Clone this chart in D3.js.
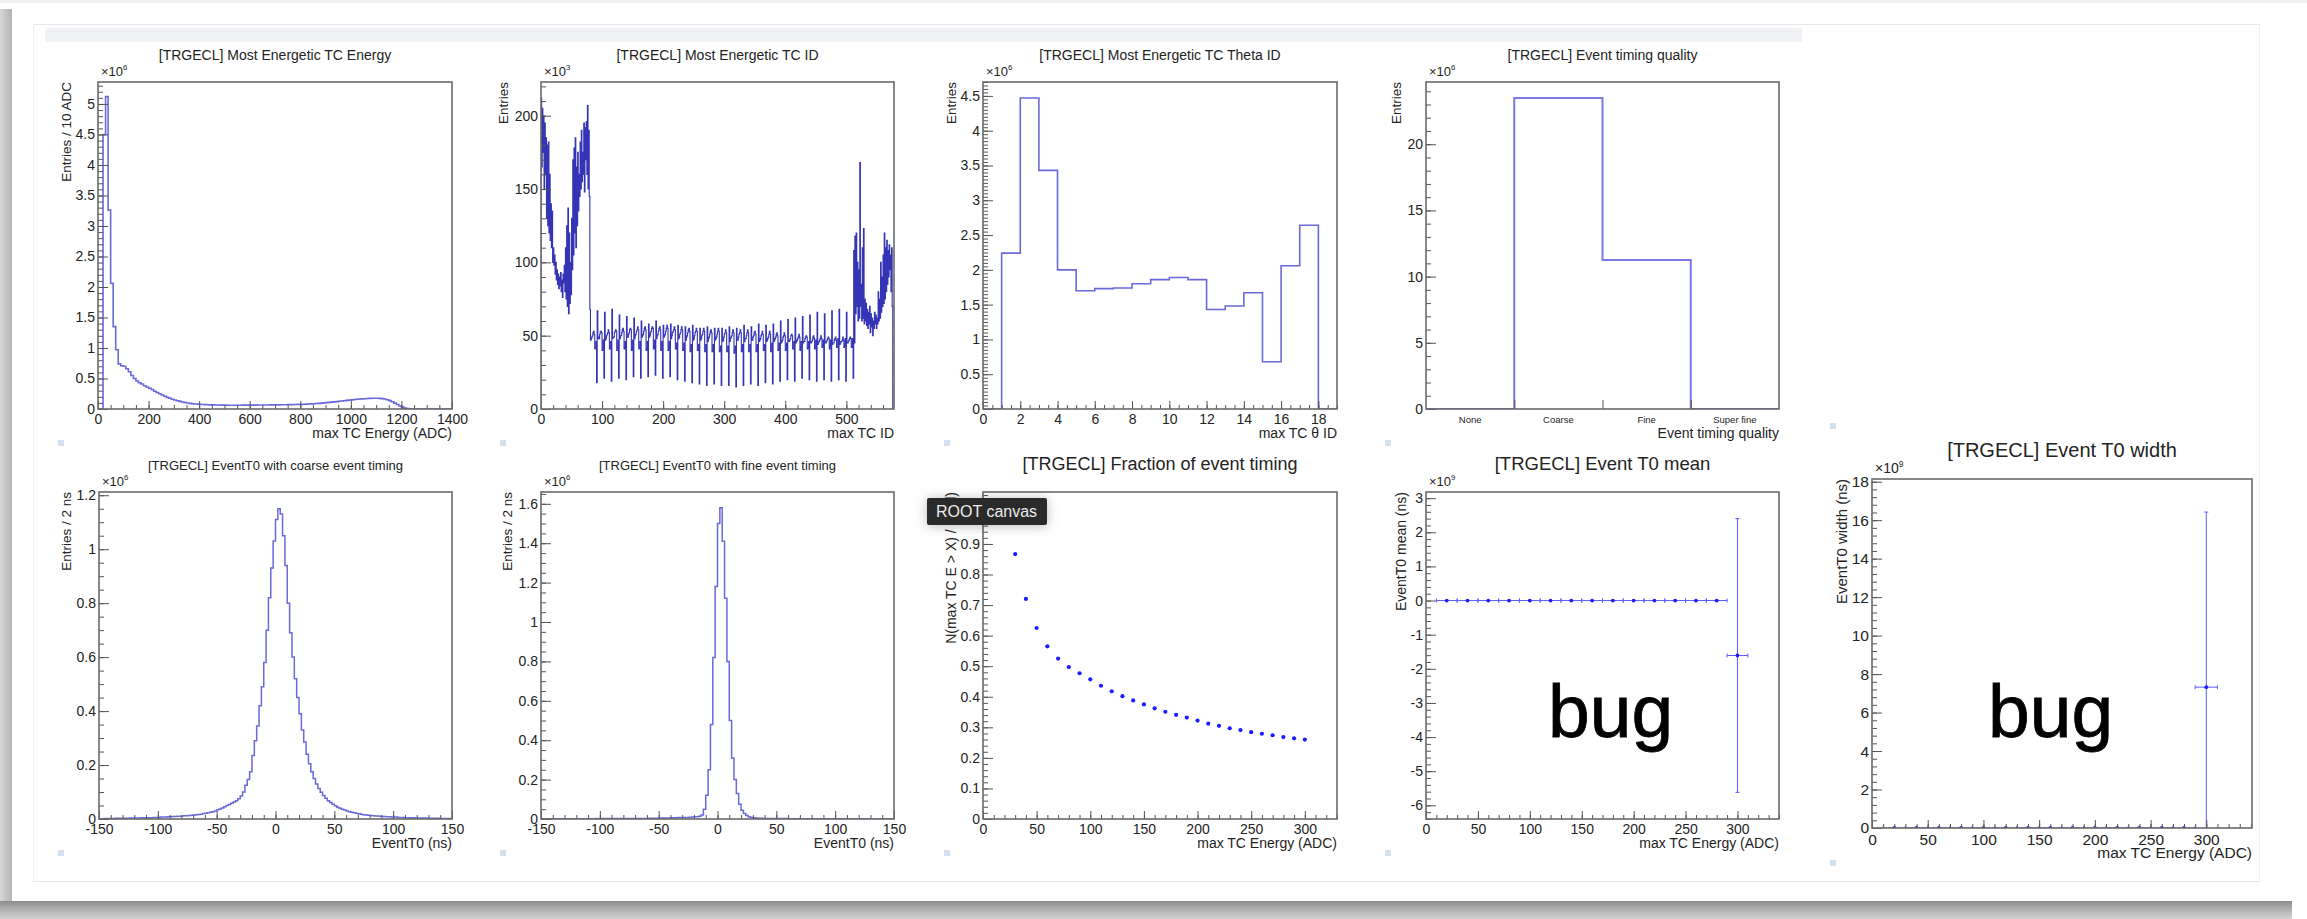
<!DOCTYPE html>
<html>
<head>
<meta charset="utf-8">
<title>TRGECL DQM</title>
<script src="https://cdn.jsdelivr.net/npm/d3@7"></script>
<style>
html,body{margin:0;padding:0;background:#fff;}
svg{display:block;}
</style>
</head>
<body>
<svg id="canvas" width="2307" height="919"></svg>
<script>
// ===================== data =====================
// Most energetic TC energy: entries (x10^6) per 10 ADC bin, starting at 0 ADC
const energyBinWidth = 10;
const energyCounts = [
  0, 0, 4.50, 5.12, 3.26, 2.06, 1.35, 0.97, 0.74, 0.71,
  0.70, 0.66, 0.61, 0.55, 0.50, 0.46, 0.43, 0.41, 0.38, 0.36,
  0.34, 0.32, 0.29, 0.27, 0.25, 0.23, 0.21, 0.19, 0.175, 0.16,
  0.148, 0.136, 0.125, 0.115, 0.106, 0.098, 0.092, 0.087, 0.083, 0.080,
  0.077, 0.074, 0.072, 0.070, 0.068, 0.067, 0.066, 0.065, 0.064, 0.063,
  0.063, 0.062, 0.062, 0.062, 0.062, 0.062, 0.062, 0.063, 0.063, 0.063,
  0.064, 0.064, 0.064, 0.065, 0.065, 0.065, 0.066, 0.066, 0.067, 0.067,
  0.068, 0.068, 0.069, 0.070, 0.070, 0.071, 0.072, 0.073, 0.074, 0.075,
  0.076, 0.078, 0.080, 0.082, 0.084, 0.087, 0.090, 0.093, 0.097, 0.100,
  0.104, 0.108, 0.112, 0.116, 0.121, 0.126, 0.131, 0.136, 0.141, 0.146,
  0.150, 0.155, 0.159, 0.163, 0.166, 0.169, 0.172, 0.174, 0.176, 0.177,
  0.176, 0.174, 0.170, 0.163, 0.152, 0.137, 0.118, 0.096, 0.073, 0.050,
  0.030, 0.015, 0.006, 0.002, 0.001, 0, 0, 0, 0, 0,
  0, 0, 0, 0, 0, 0, 0, 0, 0, 0
];

// Most energetic TC ID: entries (x10^3) per TC, forward endcap (TC 1-80)
const tcForward = [
  212, 165, 205, 175, 200, 150, 195, 160, 185, 130,
  180, 125, 182, 120, 160, 115, 140, 110, 135, 100,
  110, 98, 105, 92, 100, 88, 95, 85, 92, 82,
  90, 84, 93, 80, 88, 76, 92, 86, 98, 80,
  110, 75, 125, 70, 137, 65, 120, 72, 100, 78,
  130, 95, 170, 105, 178, 120, 185, 110, 165, 125,
  175, 135, 160, 145, 182, 150, 190, 155, 175, 160,
  195, 148, 192, 170, 196, 160, 207, 150, 190, 145
];
// barrel (TC 81-512): one row of 12 theta TCs per phi sector
const tcBarrel = [
  [68, 47, 48, 49, 50, 52, 53, 51, 41, 42, 46, 18],
  [67, 48, 49, 48, 51, 53, 53, 52, 40, 42, 47, 21],
  [66, 47, 48, 50, 51, 52, 54, 52, 41, 41, 46, 19],
  [68, 48, 49, 49, 52, 53, 54, 53, 40, 42, 47, 21],
  [64, 48, 50, 50, 52, 54, 55, 53, 41, 42, 46, 20],
  [63, 49, 49, 51, 52, 54, 55, 54, 40, 41, 47, 22],
  [62, 48, 50, 51, 53, 54, 56, 54, 41, 42, 46, 21],
  [60, 49, 50, 51, 53, 55, 56, 54, 40, 41, 46, 22],
  [58, 49, 50, 52, 53, 55, 56, 55, 41, 42, 47, 23],
  [60, 48, 50, 51, 53, 55, 56, 54, 40, 41, 46, 21],
  [57, 49, 50, 51, 53, 55, 57, 55, 40, 42, 46, 22],
  [58, 48, 50, 52, 53, 54, 56, 54, 41, 41, 45, 20],
  [57, 48, 49, 51, 52, 54, 56, 54, 40, 41, 45, 19],
  [56, 47, 49, 50, 52, 54, 55, 53, 39, 40, 44, 18],
  [57, 47, 48, 50, 52, 53, 55, 53, 40, 40, 44, 17],
  [55, 47, 48, 50, 51, 53, 55, 53, 39, 40, 44, 16],
  [56, 46, 48, 49, 51, 53, 54, 52, 39, 40, 44, 17],
  [55, 47, 48, 49, 51, 53, 55, 53, 39, 40, 43, 16],
  [55, 46, 47, 49, 51, 52, 54, 52, 39, 39, 43, 16],
  [56, 46, 48, 49, 50, 52, 54, 52, 38, 40, 43, 15],
  [55, 47, 47, 49, 51, 52, 54, 52, 39, 40, 44, 16],
  [57, 46, 48, 48, 50, 52, 54, 52, 39, 40, 44, 17],
  [56, 47, 47, 49, 50, 52, 53, 51, 39, 40, 44, 16],
  [58, 46, 47, 48, 50, 51, 53, 51, 40, 41, 44, 18],
  [57, 46, 47, 48, 49, 51, 53, 51, 39, 40, 45, 17],
  [58, 46, 47, 48, 49, 51, 52, 50, 40, 41, 45, 19],
  [60, 45, 46, 47, 49, 50, 52, 50, 40, 41, 45, 20],
  [61, 46, 46, 47, 48, 50, 51, 50, 41, 41, 46, 19],
  [62, 45, 46, 47, 48, 49, 51, 49, 40, 42, 46, 21],
  [63, 45, 46, 46, 48, 49, 50, 49, 41, 42, 46, 20],
  [64, 45, 45, 46, 47, 49, 50, 48, 41, 42, 47, 19],
  [66, 44, 45, 46, 47, 48, 50, 48, 42, 43, 47, 20],
  [65, 45, 45, 46, 47, 48, 49, 48, 41, 43, 47, 19],
  [67, 44, 45, 45, 47, 48, 49, 47, 42, 43, 48, 20],
  [68, 44, 45, 46, 46, 47, 49, 47, 42, 43, 48, 19],
  [66, 45, 45, 46, 47, 48, 49, 48, 42, 43, 48, 21]
];
// backward endcap (TC 513-576)
const tcBackward = [
  108, 45, 118, 65, 120, 70, 100, 60, 95, 62,
  168, 70, 85, 60, 110, 62, 123, 58, 75, 60,
  72, 57, 68, 55, 66, 58, 70, 52, 65, 56,
  62, 50, 60, 55, 66, 58, 64, 55, 62, 58,
  80, 60, 75, 62, 100, 66, 90, 70, 105, 72,
  120, 75, 110, 80, 115, 85, 108, 90, 112, 95,
  105, 80, 110, 70
];

// Most energetic TC theta ID: entries (x10^6) for bins 0..18
const thetaCounts = [0, 2.24, 4.47, 3.43, 2.00, 1.70, 1.73, 1.74, 1.80, 1.86, 1.89, 1.86, 1.43, 1.48, 1.67, 0.68, 2.06, 2.64, 0];

// Event timing quality (x10^6)
const qualityLabels = ["None", "Coarse", "Fine", "Super fine"];
const qualityCounts = [0, 23.5, 11.25, 0];

// EventT0 distributions: entries (x10^6) per 2 ns, from -150 ns
const t0BinWidth = 2;
const t0Coarse = [
  0.001, 0.001, 0.002, 0.002, 0.002, 0.002, 0.002, 0.003, 0.003, 0.003,
  0.003, 0.003, 0.003, 0.004, 0.004, 0.004, 0.004, 0.004, 0.005, 0.005,
  0.005, 0.005, 0.005, 0.006, 0.006, 0.006, 0.007, 0.007, 0.007, 0.008,
  0.008, 0.009, 0.009, 0.010, 0.010, 0.011, 0.012, 0.012, 0.013, 0.014,
  0.015, 0.016, 0.017, 0.018, 0.020, 0.021, 0.023, 0.025, 0.027, 0.030,
  0.034, 0.037, 0.041, 0.045, 0.050, 0.054, 0.058, 0.063, 0.068, 0.075,
  0.085, 0.100, 0.125, 0.146, 0.175, 0.235, 0.29, 0.345, 0.42, 0.49,
  0.58, 0.70, 0.82, 0.93, 1.03, 1.11, 1.15, 1.13, 1.05, 0.94,
  0.80, 0.69, 0.60, 0.52, 0.45, 0.39, 0.33, 0.285, 0.24, 0.205,
  0.175, 0.15, 0.13, 0.113, 0.099, 0.087, 0.077, 0.068, 0.061, 0.055,
  0.049, 0.044, 0.040, 0.036, 0.033, 0.030, 0.027, 0.025, 0.023, 0.021,
  0.019, 0.018, 0.016, 0.015, 0.014, 0.013, 0.012, 0.011, 0.011, 0.010,
  0.009, 0.009, 0.008, 0.008, 0.007, 0.007, 0.007, 0.006, 0.006, 0.006,
  0.005, 0.005, 0.005, 0.005, 0.004, 0.004, 0.004, 0.004, 0.004, 0.003,
  0.003, 0.003, 0.003, 0.003, 0.003, 0.002, 0.002, 0.002, 0.002, 0.002
];
const t0Fine = [
  0.000, 0.000, 0.000, 0.001, 0.000, 0.001, 0.001, 0.000, 0.001, 0.001,
  0.001, 0.001, 0.001, 0.001, 0.001, 0.001, 0.001, 0.001, 0.001, 0.001,
  0.001, 0.001, 0.001, 0.002, 0.001, 0.002, 0.002, 0.002, 0.002, 0.002,
  0.002, 0.002, 0.002, 0.002, 0.002, 0.002, 0.003, 0.002, 0.003, 0.003,
  0.003, 0.003, 0.003, 0.003, 0.003, 0.003, 0.004, 0.004, 0.004, 0.004,
  0.004, 0.005, 0.005, 0.005, 0.005, 0.006, 0.006, 0.006, 0.007, 0.007,
  0.007, 0.008, 0.008, 0.009, 0.010, 0.011, 0.012, 0.014, 0.020, 0.050,
  0.12, 0.25, 0.48, 0.82, 1.18, 1.50, 1.58, 1.41, 1.12, 0.80,
  0.50, 0.31, 0.20, 0.13, 0.075, 0.045, 0.028, 0.018, 0.012, 0.008,
  0.006, 0.005, 0.004, 0.004, 0.003, 0.003, 0.003, 0.002, 0.002, 0.002,
  0.002, 0.002, 0.002, 0.002, 0.002, 0.001, 0.001, 0.001, 0.001, 0.001,
  0.001, 0.001, 0.001, 0.001, 0.001, 0.001, 0.001, 0.001, 0.001, 0.001,
  0.001, 0.001, 0.001, 0.001, 0.001, 0.001, 0.000, 0.001, 0.000, 0.001,
  0.000, 0.000, 0.001, 0.000, 0.000, 0.000, 0.000, 0.000, 0.000, 0.000,
  0.000, 0.000, 0.000, 0.000, 0.000, 0.000, 0.000, 0.000, 0.000, 0.000
];

// Fraction of events with timing, vs max TC energy threshold
const fractionEnergy = [30, 40, 50, 60, 70, 80, 90, 100, 110, 120, 130, 140, 150, 160, 170, 180, 190, 200, 210, 220, 230, 240, 250, 260, 270, 280, 290, 300];
const fractionValues = [0.867, 0.720, 0.625, 0.565, 0.525, 0.497, 0.477, 0.457, 0.436, 0.418, 0.402, 0.388, 0.375, 0.362, 0.351, 0.341, 0.332, 0.322, 0.312, 0.305, 0.297, 0.291, 0.284, 0.279, 0.274, 0.268, 0.264, 0.260];

// EventT0 mean / width vs max TC energy (x10^9 ns)
const profileEnergy = [20, 40, 60, 80, 100, 120, 140, 160, 180, 200, 220, 240, 260, 280, 300];
const profileHalfWidth = 10;
const t0MeanValues  = [0, 0, 0, 0, 0, 0, 0, 0, 0, 0, 0, 0, 0, 0, -1.61];
const t0MeanErrors  = [0, 0, 0, 0, 0, 0, 0, 0, 0, 0, 0, 0, 0, 0, 4.01];
const t0WidthValues = [0, 0, 0, 0, 0, 0, 0, 0, 0, 0, 0, 0, 0, 0, 7.32];
const t0WidthErrors = [0, 0, 0, 0, 0, 0, 0, 0, 0, 0, 0, 0, 0, 0, 9.10];

// ===================== drawing =====================
const W = 2307, H = 919;
const FONT = "'Liberation Sans', Arial, Helvetica, sans-serif";
const TEXT = "#232323";
const HIST = "#6a6ad9";
const svg = d3.select("#canvas");
const defs = svg.append("defs");

// window chrome: drop shadow, borders, header band
const gl = defs.append("linearGradient").attr("id", "shadowLeft").attr("x1", 0).attr("x2", 1).attr("y1", 0).attr("y2", 0);
gl.append("stop").attr("offset", 0).attr("stop-color", "#d6d6d6");
gl.append("stop").attr("offset", 1).attr("stop-color", "#b4b4b4");
const gb = defs.append("linearGradient").attr("id", "shadowBottom").attr("x1", 0).attr("x2", 0).attr("y1", 0).attr("y2", 1);
gb.append("stop").attr("offset", 0).attr("stop-color", "#8a8a8a");
gb.append("stop").attr("offset", 0.35).attr("stop-color", "#a9a9a9");
gb.append("stop").attr("offset", 1).attr("stop-color", "#d2d2d2");
const ts = defs.append("filter").attr("id", "tipShadow").attr("x", "-30%").attr("y", "-80%").attr("width", "160%").attr("height", "260%");
ts.append("feDropShadow").attr("dx", 0).attr("dy", 1).attr("stdDeviation", 6).attr("flood-color", "#000").attr("flood-opacity", 0.28);

svg.append("rect").attr("width", W).attr("height", H).attr("fill", "#fff");
svg.append("rect").attr("x", 0).attr("y", 0).attr("width", W).attr("height", 3).attr("fill", "#f0f0f0");
svg.append("rect").attr("x", 0).attr("y", 9).attr("width", 12).attr("height", 893).attr("fill", "url(#shadowLeft)");
svg.append("rect").attr("x", 0).attr("y", 901).attr("width", 2292).attr("height", 18).attr("fill", "url(#shadowBottom)");
const chrome = svg.append("g").attr("fill", "none").attr("stroke-width", 1);
chrome.append("line").attr("x1", 33).attr("x2", 2259).attr("y1", 24.5).attr("y2", 24.5).attr("stroke", "#e8e8e8");
chrome.append("line").attr("x1", 33).attr("x2", 2259).attr("y1", 881.5).attr("y2", 881.5).attr("stroke", "#e6e6e6");
chrome.append("line").attr("x1", 33.5).attr("x2", 33.5).attr("y1", 24).attr("y2", 882).attr("stroke", "#f0f0f0");
chrome.append("line").attr("x1", 2259.5).attr("x2", 2259.5).attr("y1", 24).attr("y2", 882).attr("stroke", "#f0f0f0");
svg.append("rect").attr("x", 45).attr("y", 28).attr("width", 1757).attr("height", 14).attr("fill", "#f1f2f6");

// small pad markers
const padMarks = [[58, 440], [500, 440], [944, 440], [1385, 440], [1830, 423], [58, 850], [500, 850], [944, 850], [1385, 850], [1830, 860]];
svg.append("g").selectAll("rect").data(padMarks).join("rect")
  .attr("x", d => d[0]).attr("y", d => d[1]).attr("width", 6).attr("height", 6).attr("fill", "#d3e0ee");

function tickRange(dom, step) {
  const lo = Math.min(dom[0], dom[1]), hi = Math.max(dom[0], dom[1]);
  const out = [];
  for (let k = Math.ceil(lo / step - 1e-9); k * step <= hi + 1e-9; k++) out.push(+(k * step).toFixed(6));
  return out;
}
const fmt = v => String(+v.toFixed(3));

function styleAxis(sel, fs) {
  sel.select(".domain").remove();
  sel.attr("font-family", FONT).attr("font-size", fs);
  sel.selectAll(".tick line").attr("stroke", "#555").attr("stroke-width", 1);
  sel.selectAll(".tick text").attr("fill", TEXT);
}

function panel(o) {
  const x = d3.scaleLinear().domain(o.xDomain).range([o.L, o.R]);
  const y = d3.scaleLinear().domain(o.yDomain).range([o.B, o.T]);
  const g = svg.append("g");
  const cid = "clip-" + o.key;
  defs.append("clipPath").attr("id", cid).append("rect")
    .attr("x", o.L).attr("y", o.T).attr("width", o.R - o.L).attr("height", o.B - o.T);
  const plot = g.append("g").attr("clip-path", `url(#${cid})`);
  const axes = g.append("g");
  const fs = o.tickFont || 14;

  // y axis (ticks point into the frame)
  axes.append("g").attr("transform", `translate(${o.L},0)`)
    .call(d3.axisLeft(y).tickValues(tickRange(o.yDomain, o.yMinor)).tickSize(-5).tickFormat(""))
    .call(s => styleAxis(s, fs));
  axes.append("g").attr("transform", `translate(${o.L},0)`)
    .call(d3.axisLeft(y).tickValues(tickRange(o.yDomain, o.yMajor)).tickSize(-10).tickPadding(3).tickFormat(fmt))
    .call(s => styleAxis(s, fs));

  // x axis
  if (!o.categories) {
    axes.append("g").attr("transform", `translate(0,${o.B})`)
      .call(d3.axisBottom(x).tickValues(tickRange(o.xDomain, o.xMinor)).tickSize(-4).tickFormat(""))
      .call(s => styleAxis(s, fs));
    axes.append("g").attr("transform", `translate(0,${o.B})`)
      .call(d3.axisBottom(x).tickValues(tickRange(o.xDomain, o.xMajor)).tickSize(-8).tickPadding(o.xPad || 5).tickFormat(fmt))
      .call(s => styleAxis(s, fs));
  } else {
    const band = d3.scaleBand().domain(o.categories).range([o.L, o.R]);
    axes.append("g").attr("transform", `translate(0,${o.B})`)
      .call(d3.axisBottom(band).tickSize(0).tickPadding(7))
      .call(s => styleAxis(s, 9.5));
    axes.append("g").attr("transform", `translate(0,${o.B})`)
      .call(d3.axisBottom(x).tickValues(d3.range(1, o.categories.length)).tickSize(-9).tickFormat(""))
      .call(s => styleAxis(s, fs));
  }

  // frame
  g.append("rect").attr("x", o.L).attr("y", o.T).attr("width", o.R - o.L).attr("height", o.B - o.T)
    .attr("fill", "none").attr("stroke", "#6a6a6a").attr("stroke-width", 1.6);

  // titles
  g.append("text").attr("x", (o.L + o.R) / 2).attr("y", o.T - 22).attr("text-anchor", "middle")
    .attr("font-family", FONT).attr("font-size", o.titleFont || 14).attr("fill", TEXT).text(o.title);
  g.append("text").attr("x", o.R).attr("y", o.B + (o.xTitleGap || 29)).attr("text-anchor", "end")
    .attr("font-family", FONT).attr("font-size", o.xTitleFont || 14).attr("fill", TEXT).text(o.xTitle);
  g.append("text").attr("transform", `translate(${o.yTitleX},${o.T}) rotate(-90)`).attr("text-anchor", "end")
    .attr("font-family", FONT).attr("font-size", o.yTitleFont || 13.5).attr("fill", TEXT).text(o.yTitle);
  if (o.expo) {
    const t = g.append("text").attr("x", o.L + 3).attr("y", o.T - 6)
      .attr("font-family", FONT).attr("font-size", o.expoFont || 13).attr("fill", TEXT);
    t.append("tspan").text("\u00d710");
    t.append("tspan").attr("dy", -6).attr("font-size", (o.expoFont || 13) * 0.6).text(o.expo);
  }
  return { x, y, plot, g };
}

// step outline of a fixed-width histogram
function stepOutline(start, width, counts) {
  const pts = [[start, 0]];
  counts.forEach((c, i) => { pts.push([start + i * width, c], [start + (i + 1) * width, c]); });
  pts.push([start + counts.length * width, 0]);
  return pts;
}
function drawHist(p, pts, color, w) {
  const line = d3.line().x(d => p.x(d[0])).y(d => p.y(d[1]));
  p.plot.append("path").attr("d", line(pts)).attr("fill", "none")
    .attr("stroke", color).attr("stroke-width", w).attr("stroke-linejoin", "miter");
}

// ---- top row ----
const p1 = panel({ key: "p1", L: 98, R: 452, T: 82, B: 409, xDomain: [0, 1400], yDomain: [0, 5.36],
  xMajor: 200, xMinor: 50, yMajor: 0.5, yMinor: 0.1, expo: "6", yTitleX: 71,
  title: "[TRGECL] Most Energetic TC Energy", xTitle: "max TC Energy (ADC)", yTitle: "Entries / 10 ADC" });
drawHist(p1, stepOutline(0, energyBinWidth, energyCounts), HIST, 1.6);

const tcCounts = tcForward.concat(tcBarrel.flat(), tcBackward);
const p2 = panel({ key: "p2", L: 541, R: 894, T: 82, B: 409, xDomain: [0, 578], yDomain: [0, 223],
  xMajor: 100, xMinor: 20, yMajor: 50, yMinor: 10, expo: "3", yTitleX: 508,
  title: "[TRGECL] Most Energetic TC ID", xTitle: "max TC ID", yTitle: "Entries" });
drawHist(p2, stepOutline(0, 1, tcCounts), "#3434b4", 1.1);

const p3 = panel({ key: "p3", L: 983, R: 1337, T: 82, B: 409, xDomain: [0, 19], yDomain: [0, 4.70],
  xMajor: 2, xMinor: 0.5, yMajor: 0.5, yMinor: 0.05, expo: "6", yTitleX: 956,
  title: "[TRGECL] Most Energetic TC Theta ID", xTitle: "max TC \u03b8 ID", yTitle: "Entries" });
drawHist(p3, stepOutline(0, 1, thetaCounts), HIST, 1.6);

const p4 = panel({ key: "p4", L: 1426, R: 1779, T: 82, B: 409, xDomain: [0, qualityLabels.length], yDomain: [0, 24.7],
  yMajor: 5, yMinor: 1, expo: "6", yTitleX: 1401, categories: qualityLabels,
  title: "[TRGECL] Event timing quality", xTitle: "Event timing quality", yTitle: "Entries" });
drawHist(p4, stepOutline(0, 1, qualityCounts), "#7a7ae6", 2);

// ---- bottom row ----
const p5 = panel({ key: "p5", L: 99, R: 452, T: 492, B: 819, xDomain: [-150, 150], yDomain: [0, 1.212],
  xMajor: 50, xMinor: 10, yMajor: 0.2, yMinor: 0.05, expo: "6", yTitleX: 71, titleFont: 13,
  title: "[TRGECL] EventT0 with coarse event timing", xTitle: "EventT0 (ns)", yTitle: "Entries / 2 ns" });
drawHist(p5, stepOutline(-150, t0BinWidth, t0Coarse), HIST, 1.5);

const p6 = panel({ key: "p6", L: 541, R: 894, T: 492, B: 819, xDomain: [-150, 150], yDomain: [0, 1.66],
  xMajor: 50, xMinor: 10, yMajor: 0.2, yMinor: 0.05, expo: "6", yTitleX: 512, titleFont: 13,
  title: "[TRGECL] EventT0 with fine event timing", xTitle: "EventT0 (ns)", yTitle: "Entries / 2 ns" });
drawHist(p6, stepOutline(-150, t0BinWidth, t0Fine), HIST, 1.5);

const p7 = panel({ key: "p7", L: 983, R: 1337, T: 492, B: 819, xDomain: [0, 330], yDomain: [0, 1.07],
  xMajor: 50, xMinor: 10, yMajor: 0.1, yMinor: 0.02, yTitleX: 956, titleFont: 18, yTitleFont: 14,
  title: "[TRGECL] Fraction of event timing", xTitle: "max TC Energy (ADC)", yTitle: "N(max TC E > X) / N(all)" });
p7.plot.selectAll("circle").data(fractionEnergy).join("circle")
  .attr("cx", (d) => p7.x(d)).attr("cy", (d, i) => p7.y(fractionValues[i])).attr("r", 2.1).attr("fill", "#1c1cff");

function drawProfile(p, values, errors) {
  const eg = p.plot.append("g").attr("stroke", "#5c5cff").attr("stroke-width", 1).attr("fill", "none");
  profileEnergy.forEach((e, i) => {
    const cx = p.x(e), cy = p.y(values[i]);
    const xl = p.x(e - profileHalfWidth), xr = p.x(e + profileHalfWidth);
    eg.append("line").attr("x1", xl).attr("x2", xr).attr("y1", cy).attr("y2", cy);
    eg.append("line").attr("x1", xl).attr("x2", xl).attr("y1", cy - 2).attr("y2", cy + 2);
    eg.append("line").attr("x1", xr).attr("x2", xr).attr("y1", cy - 2).attr("y2", cy + 2);
    if (errors[i] > 0) {
      const yt = p.y(values[i] + errors[i]), yb = p.y(values[i] - errors[i]);
      eg.append("line").attr("x1", cx).attr("x2", cx).attr("y1", yt).attr("y2", yb);
      eg.append("line").attr("x1", cx - 2).attr("x2", cx + 2).attr("y1", yt).attr("y2", yt);
      eg.append("line").attr("x1", cx - 2).attr("x2", cx + 2).attr("y1", yb).attr("y2", yb);
    }
  });
  p.plot.append("g").selectAll("circle").data(profileEnergy).join("circle")
    .attr("cx", d => p.x(d)).attr("cy", (d, i) => p.y(values[i])).attr("r", 1.9).attr("fill", "#1c1cff");
}

const p8 = panel({ key: "p8", L: 1426, R: 1779, T: 492, B: 819, xDomain: [0, 340], yDomain: [-6.4, 3.18],
  xMajor: 50, xMinor: 10, yMajor: 1, yMinor: 0.2, expo: "9", yTitleX: 1406, titleFont: 18.5, yTitleFont: 14,
  title: "[TRGECL] Event T0 mean", xTitle: "max TC Energy (ADC)", yTitle: "EventT0 mean (ns)" });
drawProfile(p8, t0MeanValues, t0MeanErrors);

const p9 = panel({ key: "p9", L: 1872, R: 2252, T: 479, B: 828, xDomain: [0, 341], yDomain: [0, 18.14],
  xMajor: 50, xMinor: 10, yMajor: 2, yMinor: 0.4, expo: "9", yTitleX: 1847, titleFont: 20,
  tickFont: 15.5, xTitleFont: 15.5, yTitleFont: 15, expoFont: 14, xTitleGap: 30, xPad: 6,
  title: "[TRGECL] Event T0 width", xTitle: "max TC Energy (ADC)", yTitle: "EventT0 width (ns)" });
drawProfile(p9, t0WidthValues, t0WidthErrors);

// annotations
svg.append("g").attr("font-family", FONT).attr("font-size", 75).attr("fill", "#000")
  .attr("stroke", "#000").attr("stroke-width", 0.8)
  .selectAll("text").data([p8, p9]).join("text")
  .attr("x", (d, i) => i === 0 ? 1548 : 1988).attr("y", 737).text("bug");

// hover tooltip over the fraction pad
const tip = svg.append("g");
tip.append("rect").attr("x", 927).attr("y", 498).attr("width", 120).attr("height", 27).attr("rx", 2)
  .attr("fill", "#2b2b2b").attr("filter", "url(#tipShadow)");
tip.append("text").attr("x", 936).attr("y", 517).attr("font-family", FONT).attr("font-size", 16)
  .attr("fill", "#ececec").text("ROOT canvas");
</script>
</body>
</html>
